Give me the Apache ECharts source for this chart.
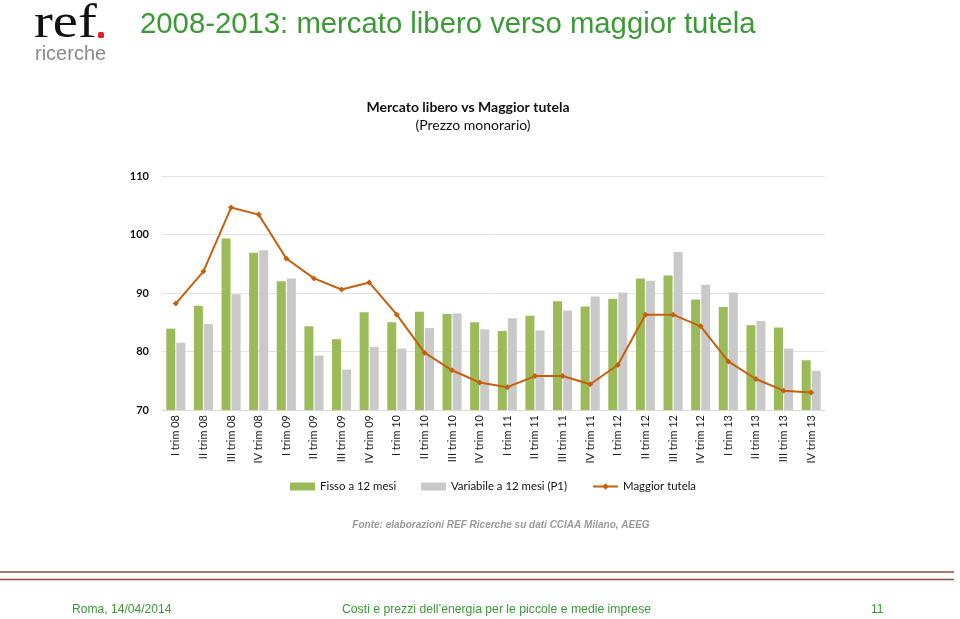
<!DOCTYPE html>
<html>
<head>
<meta charset="utf-8">
<script src="https://cdn.jsdelivr.net/npm/echarts@6/dist/echarts.min.js"></script>
<style>
html,body{margin:0;padding:0;background:#fff;}
#c{width:960px;height:619px;}
</style>
</head>
<body>
<div id="c"></div>
<script>
const categories = ["I trim 08","II trim 08","III trim 08","IV trim 08","I trim 09","II trim 09","III trim 09","IV trim 09","I trim 10","II trim 10","III trim 10","IV trim 10","I trim 11","II trim 11","III trim 11","IV trim 11","I trim 12","II trim 12","III trim 12","IV trim 12","I trim 13","II trim 13","III trim 13","IV trim 13"];
const fisso = [83.9,87.8,99.3,96.9,92.0,84.3,82.1,86.7,85.0,86.8,86.4,85.0,83.5,86.1,88.6,87.7,89.0,92.5,93.0,88.9,87.6,84.5,84.1,78.5];
const variabile = [81.5,84.7,89.8,97.3,92.5,79.3,76.9,80.8,80.5,84.0,86.5,83.8,85.7,83.6,87.0,89.4,90.1,92.1,97.0,91.4,90.1,85.2,80.5,76.7];
const tutela = [88.2,93.7,104.6,103.4,95.9,92.5,90.6,91.8,86.3,79.8,76.8,74.7,73.9,75.8,75.8,74.4,77.7,86.3,86.3,84.3,78.3,75.3,73.3,73.0];
const yTicks = [70,80,90,100,110];

const GREEN = '#9bbb59', GRAY = '#c9c9c9', ORANGE = '#c5600f';
const gill = 'Lato, "Open Sans", sans-serif';
const footFont = '13px "Liberation Sans", Arial, sans-serif';
const legendBase = {top: 476, itemWidth: 25, itemHeight: 8,
  textStyle: {fontFamily: gill, fontSize: 11.4, color: '#111'}};
const chart = echarts.init(document.getElementById('c'));
chart.setOption({
  animation: false,
  backgroundColor: '#fff',
  title: [
    {text: '2008-2013: mercato libero verso maggior tutela', left: 135, top: 5,
     textStyle: {fontFamily: '"Liberation Sans", Arial, sans-serif', fontSize: 29.3, fontWeight: 'normal', color: '#3b9a35'}},
    {text: 'Mercato libero vs Maggior tutela', left: 463, top: 95, textAlign: 'center',
     textStyle: {fontFamily: gill, fontSize: 14, fontWeight: 'bold', color: '#111'}},
    {text: '(Prezzo monorario)', left: 468, top: 113, textAlign: 'center',
     textStyle: {fontFamily: gill, fontSize: 14, fontWeight: 'normal', color: '#111'}},
    {text: 'Fonte: elaborazioni REF Ricerche su dati CCIAA Milano, AEEG', left: 496, top: 515, textAlign: 'center',
     textStyle: {fontFamily: '"Liberation Sans", Arial, sans-serif', fontSize: 10, fontStyle: 'italic', fontWeight: 'bold', color: '#9a9a9a'}}
  ],
  legend: [
    Object.assign({left: 285, data: [{name: 'Fisso a 12 mesi', icon: 'rect'}]}, legendBase),
    Object.assign({left: 416, data: [{name: 'Variabile a 12 mesi (P1)', icon: 'rect'}]}, legendBase),
    Object.assign({left: 587, data: [{name: 'Maggior tutela'}]}, legendBase)
  ],
  grid: {left: 162, right: 135, top: 176, bottom: 209, containLabel: false},
  xAxis: {
    type: 'category', data: categories,
    axisLine: {show: true, lineStyle: {color: '#d9d9d9'}},
    axisTick: {show: false},
    axisLabel: {rotate: 90, interval: 0, margin: 5, fontFamily: gill, fontSize: 11, color: '#222'}
  },
  yAxis: {
    type: 'value', min: 70, max: 110, interval: 10,
    axisLine: {show: false}, axisTick: {show: false},
    splitLine: {lineStyle: {color: '#e3e3e3'}},
    axisLabel: {margin: 13, fontFamily: gill, fontSize: 11, fontWeight: 'bold', color: '#111',
      formatter: v => yTicks.includes(v) ? String(v) : ''}
  },
  series: [
    {name: 'Fisso a 12 mesi', type: 'bar', data: fisso, itemStyle: {color: GREEN},
     barWidth: 9, barGap: '12%'},
    {name: 'Variabile a 12 mesi (P1)', type: 'bar', data: variabile, itemStyle: {color: GRAY},
     barWidth: 9, barGap: '12%'},
    {name: 'Maggior tutela', type: 'line', data: tutela, symbol: 'diamond', symbolSize: 6,
     lineStyle: {color: ORANGE, width: 2}, itemStyle: {color: ORANGE}, z: 5}
  ],
  graphic: [
    {type: 'text', x: 34, y: 0, scaleX: 1.18, scaleY: 1.0,
     style: {text: 'ref', font: '48px "Liberation Serif", "DejaVu Serif", serif', fill: '#111'}},
    {type: 'rect', shape: {x: 98, y: 32, width: 6, height: 6, r: 1.5}, style: {fill: '#e0202a'}},
    {type: 'text', x: 35, y: 44, style: {text: 'ricerche', font: '20px "Liberation Sans", Arial, sans-serif', fill: '#8a8a8a'}},
    {type: 'line', shape: {x1: 0, y1: 572, x2: 954, y2: 572}, style: {stroke: '#8e4e3c', lineWidth: 1.5}},
    {type: 'line', shape: {x1: 0, y1: 579.5, x2: 954, y2: 579.5}, style: {stroke: '#8e4e3c', lineWidth: 1.5}},
    {type: 'text', x: 72, y: 603, scaleX: 0.93, style: {text: 'Roma, 14/04/2014', font: footFont, fill: '#3b9a35'}},
    {type: 'text', x: 342, y: 603, scaleX: 0.94, style: {text: "Costi e prezzi dell\u2019energia per le piccole e medie imprese", font: footFont, fill: '#3b9a35'}},
    {type: 'text', x: 871, y: 603, scaleX: 0.93, style: {text: '11', font: footFont, fill: '#3b9a35'}}
  ]
});
</script>
</body>
</html>
